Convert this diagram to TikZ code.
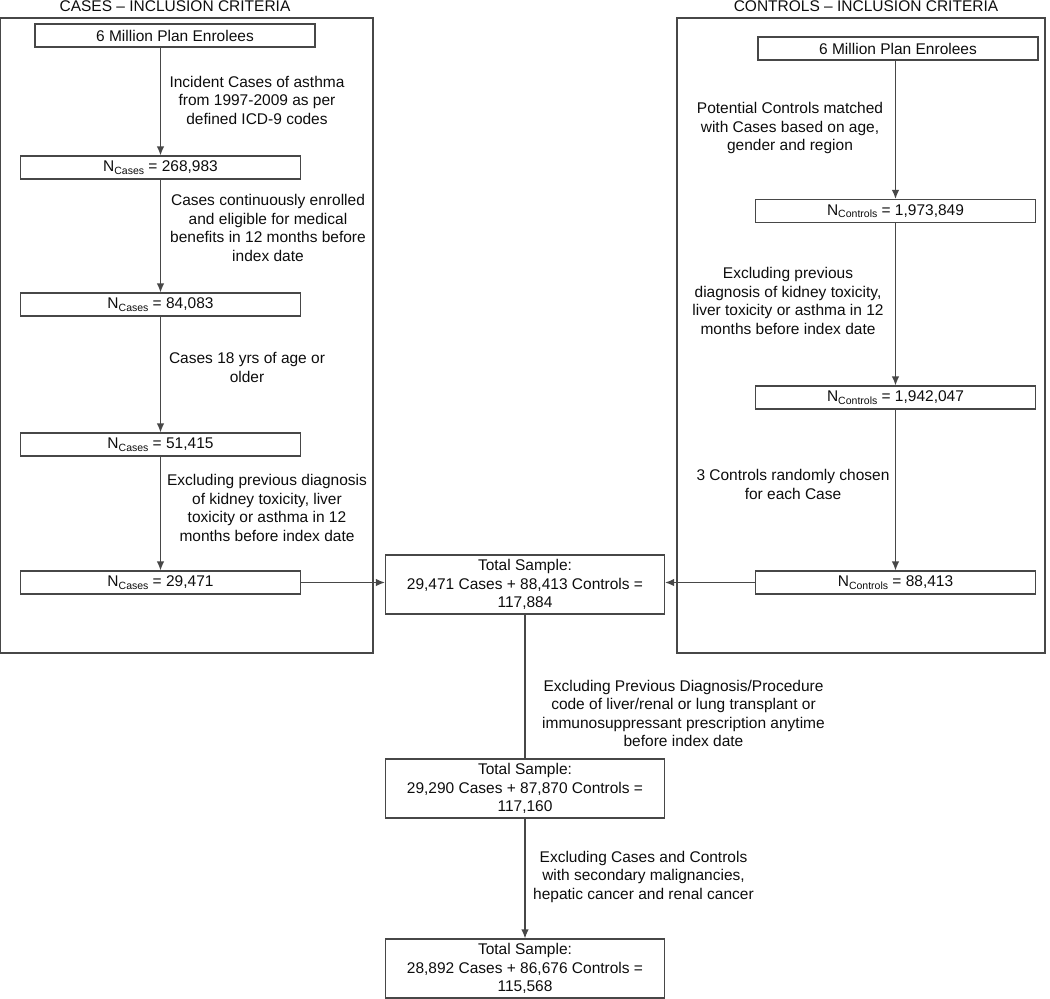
\documentclass[tikz,border=0pt]{standalone}
\usepackage{fontspec}
\setmainfont{Liberation Sans}
\usepackage{tikz}
\usetikzlibrary{arrows.meta,positioning}
\definecolor{gray3}{gray}{0.28}
\definecolor{gray1}{gray}{0.05}
\newcommand{\nsub}[1]{N\raisebox{-2.5pt}{\fontsize{10.5}{10.5}\selectfont #1}}

\begin{document}
\begin{tikzpicture}
[x=1pt,y=-1pt,align=center,font=\fontsize{15.5}{18.5}\selectfont,text=gray1,line width=1.2pt]
\tikzstyle{plain}=[draw=gray3,inner sep=0pt,minimum width=280pt,minimum height=23pt]
\tikzstyle{total}=[plain,minimum width=279pt,minimum height=59pt]
\tikzstyle{crit}=[inner sep=0pt]
\tikzstyle{flow}=[draw=gray3,-{Latex[length=9pt,width=7.5pt]}]

\useasboundingbox (0,0) rectangle (1050,999);

% frames of the two columns
\draw [gray3] (0.6,18) rectangle (373,653);
\draw [gray3] (677,18) rectangle (1045,653);
\draw node [anchor=base] (titleA) at (175,11.5) {CASES – INCLUSION CRITERIA};
\draw node [anchor=base] (titleB) at (866,11.5) {CONTROLS – INCLUSION CRITERIA};

% cases
\draw node [plain] (enrolA) at (175,35.5) {6 Million Plan Enrolees};
\draw node [plain] (casesA) at (160.5,167.5) {\nsub{Cases} = 268,983};
\draw node [plain] (casesB) at (160.5,304.5) {\nsub{Cases} = 84,083};
\draw node [plain] (casesC) at (160.5,444.5) {\nsub{Cases} = 51,415};
\draw node [plain] (casesD) at (160.5,582.5) {\nsub{Cases} = 29,471};

\draw node [crit] (critA) at (257,100) {Incident Cases of asthma\\from 1997-2009 as per\\defined ICD-9 codes};
\draw node [crit] (critB) at (268,228) {Cases continuously enrolled\\and eligible for medical\\benefits in 12 months before\\index date};
\draw node [crit] (critC) at (247,367.5) {Cases 18 yrs of age or\\older};
\draw node [crit] (critD) at (267,508) {Excluding previous diagnosis\\of kidney toxicity, liver\\toxicity or asthma in 12\\months before index date};

% controls
\draw node [plain] (enrolB) at (898,48.5) {6 Million Plan Enrolees};
\draw node [plain] (ctrlA) at (895.5,211) {\nsub{Controls} = 1,973,849};
\draw node [plain] (ctrlB) at (895.5,397.5) {\nsub{Controls} = 1,942,047};
\draw node [plain] (ctrlC) at (895.5,582.5) {\nsub{Controls} = 88,413};

\draw node [crit] (critE) at (790,128) {Potential Controls matched\\with Cases based on age,\\gender and region};
\draw node [crit] (critF) at (788,301) {Excluding previous\\diagnosis of kidney toxicity,\\liver toxicity or asthma in 12\\months before index date};
\draw node [crit] (critG) at (793,484.5) {3 Controls randomly chosen\\for each Case};

% total sample
\draw node [total] (totalA) at (525,584.5) {Total Sample:\\29,471 Cases + 88,413 Controls =\\117,884};
\draw node [total] (totalB) at (525,788.5) {Total Sample:\\29,290 Cases + 87,870 Controls =\\117,160};
\draw node [total] (totalC) at (525,968.5) {Total Sample:\\28,892 Cases + 86,676 Controls =\\115,568};

\draw node [crit] (critH) at (683.5,713.5) {Excluding Previous Diagnosis/Procedure\\code of liver/renal or lung transplant or\\immunosuppressant prescription anytime\\before index date};
\draw node [crit] (critI) at (643.5,876.5) {Excluding Cases and Controls\\with secondary malignancies,\\hepatic cancer and renal cancer};

\draw [flow] (enrolA.south -| casesA.north) -- (casesA.north);
\draw [flow] (casesA) -- (casesB);
\draw [flow] (casesB) -- (casesC);
\draw [flow] (casesC) -- (casesD);
\draw [flow] (enrolB.south -| ctrlA.north) -- (ctrlA.north);
\draw [flow] (ctrlA) -- (ctrlB);
\draw [flow] (ctrlB) -- (ctrlC);
\draw [flow] (casesD.east) -- (casesD.east -| totalA.west);
\draw [flow] (ctrlC.west) -- (ctrlC.west -| totalA.east);
\draw [gray3] (totalA) -- (totalB);
\draw [flow] (totalB) -- (totalC);

\end{tikzpicture}
\end{document}
